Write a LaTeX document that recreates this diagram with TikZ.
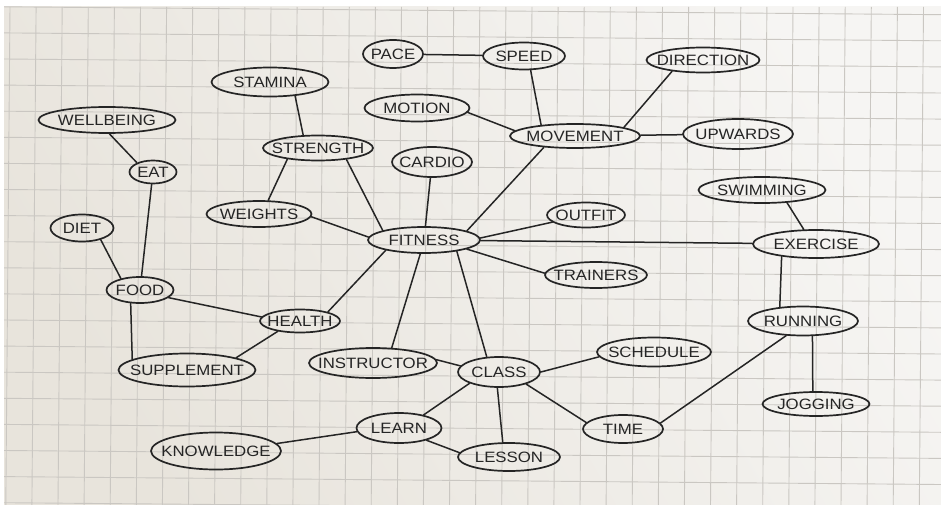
\documentclass[tikz,border=0pt]{standalone}
\usepackage{fontspec}
\setmainfont[FakeStretch=1.12]{Liberation Sans}
\usetikzlibrary{shapes.geometric}

\definecolor{ink}{HTML}{252525}
\definecolor{gridc}{HTML}{CAC7C2}
\definecolor{paperA}{HTML}{F6F5F3}
\definecolor{paperB}{HTML}{E8E4DC}

\tikzset{
  bub/.style 2 args={ellipse, draw=ink, line width=1.7pt,
    minimum width=#1pt, minimum height=#2pt, inner sep=0pt,
    font=\fontsize{15}{15}\selectfont, text=ink},
  link/.style={draw=ink, line width=1.5pt, line cap=round},
  gline/.style={draw=gridc, line width=0.9pt}
}
\newcommand{\lbl}[1]{\makebox[0pt]{#1}}

\begin{document}
\begin{tikzpicture}[x=1pt,y=-1pt]
\useasboundingbox (0,0) rectangle (941,505);
\fill[white] (0,0) rectangle (941,505);

% squared paper
\shade[top color=paperA, bottom color=paperB, shading angle=-60]
  (4,7) rectangle (941,505);
\begin{scope}
  \clip (4,7) rectangle (941,505);
  \foreach \k in {-1,...,35}
    \draw[gline] ({36.1+26.1*\k},7) -- ({31.9+26.1*\k},505);
  \foreach \j in {-1,...,18}
    \draw[gline] (4,{32.9+26.1*\j}) -- (941,{40.8+26.1*\j});
\end{scope}

% ideas
\node[bub={60}{28}]   (pace)     at (393,54)  {\lbl{PACE}};
\node[bub={82}{27}]   (speed)    at (524,56)  {\lbl{SPEED}};
\node[bub={113}{25}]  (dir)      at (703,60)  {\lbl{DIRECTION}};
\node[bub={117}{29}]  (stamina)  at (270,82)  {\lbl{STAMINA}};
\node[bub={105}{27}]  (motion)   at (417,108) {\lbl{MOTION}};
\node[bub={130}{24}]  (mov)      at (575,136) {\lbl{MOVEMENT}};
\node[bub={110}{30}]  (upw)      at (738,134) {\lbl{UPWARDS}};
\node[bub={137}{26}]  (well)     at (107,120) {\lbl{WELLBEING}};
\node[bub={110}{25}]  (stren)    at (318,148) {\lbl{STRENGTH}};
\node[bub={80}{30}]   (cardio)   at (432,162) {\lbl{CARDIO}};
\node[bub={47}{23}]   (eat)      at (153,172) {\lbl{EAT}};
\node[bub={127}{26}]  (swim)     at (762,190) {\lbl{SWIMMING}};
\node[bub={78}{25}]   (outfit)   at (586,215) {\lbl{OUTFIT}};
\node[bub={105}{26}]  (weights)  at (259,214) {\lbl{WEIGHTS}};
\node[bub={63}{27}]   (diet)     at (82,228)  {\lbl{DIET}};
\node[bub={112}{26}]  (fit)      at (424,240) {\lbl{FITNESS}};
\node[bub={126}{28}]  (ex)       at (816,244) {\lbl{EXERCISE}};
\node[bub={102}{26}]  (trainers) at (596,275) {\lbl{TRAINERS}};
\node[bub={67}{26}]   (food)     at (140,290) {\lbl{FOOD}};
\node[bub={80}{23}]   (health)   at (300,321) {\lbl{HEALTH}};
\node[bub={110}{29}]  (running)  at (803,321) {\lbl{RUNNING}};
\node[bub={128}{30}]  (instr)    at (373,363) {\lbl{INSTRUCTOR}};
\node[bub={137}{33}]  (supp)     at (187,370) {\lbl{SUPPLEMENT}};
\node[bub={114}{29}]  (sched)    at (654,352) {\lbl{SCHEDULE}};
\node[bub={82}{30}]   (class)    at (499,372) {\lbl{CLASS}};
\node[bub={107}{24}]  (jog)      at (816,404) {\lbl{JOGGING}};
\node[bub={85}{30}]   (learn)    at (399,428) {\lbl{LEARN}};
\node[bub={80}{28}]   (time)     at (623,429) {\lbl{TIME}};
\node[bub={130}{37}]  (know)     at (216,451) {\lbl{KNOWLEDGE}};
\node[bub={102}{28}]  (lesson)   at (509,457) {\lbl{LESSON}};

% connections
\draw[link] (pace) -- (speed);
\draw[link] (speed.-65) -- (mov.162);
\draw[link] (dir.200) -- (mov.10);
\draw[link] (motion.-5) -- (mov.175);
\draw[link] (mov) -- (upw);
\draw[link] (mov.200) -- (fit.12);
\draw[link] (stamina.-29) -- (stren.139);
\draw[link] (stren.200) -- (weights.56);
\draw[link] (stren.-22) -- (fit.167);
\draw[link] (weights.-3) -- (fit.177);
\draw[link] (cardio) -- (fit);
\draw[link] (well.-80) -- (eat.150);
\draw[link] (eat) -- (food);
\draw[link] (diet.-32) -- (food.149);
\draw[link] (food.-15) -- (health.174);
\draw[link] (food.-125) -- (supp.169);
\draw[link] (health.205) -- (supp.14);
\draw[link] (health.18) -- (fit.195);
\draw[link] (fit.-105) -- (instr.39);
\draw[link] (fit.-19) -- (class.129);
\draw[link] (fit.2) -- (outfit.192);
\draw[link] (fit) -- (ex);
\draw[link] (fit.-12) -- (trainers.178);
\draw[link] (swim.-27) -- (ex.130);
\draw[link] (ex.200) -- (running.149);
\draw[link] (running.-58) -- (jog.104);
\draw[link] (running.221) -- (time.9);
\draw[link] (instr.3) -- (class.171);
\draw[link] (class.0) -- (sched.185);
\draw[link] (class.-24) -- (time.170);
\draw[link] (class.-96) -- (lesson.113);
\draw[link] (class.201) -- (learn.28);
\draw[link] (learn.185) -- (know.7);
\draw[link] (learn.-24) -- (lesson.175);
\end{tikzpicture}
\end{document}
